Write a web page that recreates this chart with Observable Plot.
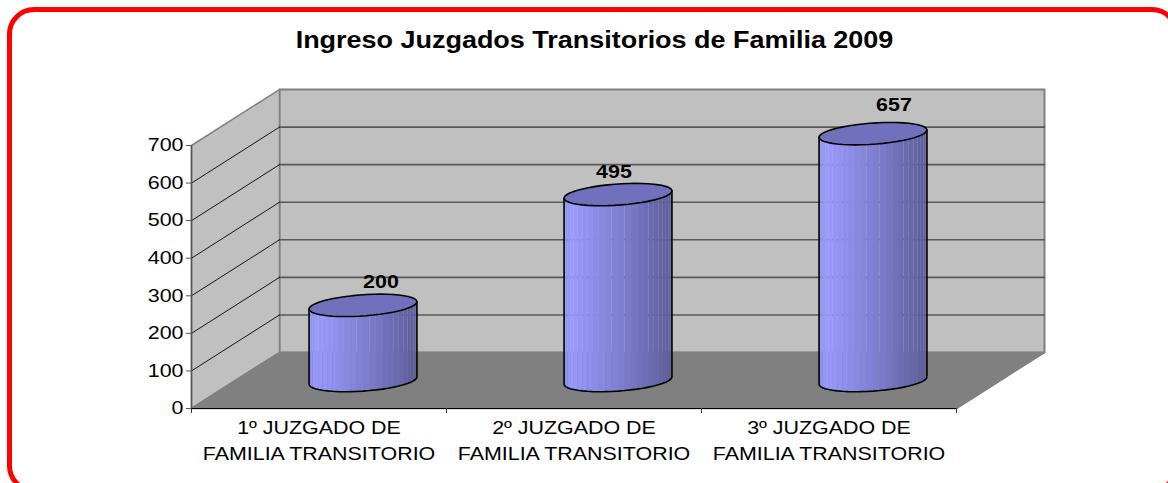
<!DOCTYPE html>
<html><head><meta charset="utf-8">
<script src="https://cdn.jsdelivr.net/npm/d3@7"></script>
<script src="https://cdn.jsdelivr.net/npm/@observablehq/plot@0.6"></script>
<style>
html,body{margin:0;padding:0;background:#fff;overflow:hidden;width:1168px;height:483px}
#frame{position:absolute;left:7px;top:7px;width:1162px;height:476px;border:5px solid #ff0000;border-radius:27px;}
#title{position:absolute;left:0;width:1189px;top:27px;text-align:center;font:bold 23.5px "Liberation Sans",Arial,sans-serif;color:#000;transform:scaleX(1.147);transform-origin:594.5px 50%}
#chart{position:absolute;left:0;top:0}
</style></head><body>
<div id="frame"></div>
<div id="title"></div>
<div id="chart"></div>
<script>
const chartTitle = "Ingreso Juzgados Transitorios de Familia 2009";
const categories = ["1º JUZGADO DE\nFAMILIA TRANSITORIO", "2º JUZGADO DE\nFAMILIA TRANSITORIO", "3º JUZGADO DE\nFAMILIA TRANSITORIO"];
const values = [200, 495, 657];
const yTicks = [0, 100, 200, 300, 400, 500, 600, 700];

// oblique projection expressed in data units: one unit of depth moves this far along x and y
const depthX = 88 / 255, depthY = 149;
const P = (u, d, v) => ({x: u + d * depthX, y: v + d * depthY});
const nCat = categories.length, yMax = yTicks[yTicks.length - 1];

const backWall = [P(0,1,0), P(nCat,1,0), P(nCat,1,yMax), P(0,1,yMax), P(0,1,0)];
const sideWall = [P(0,0,0), P(0,1,0), P(0,1,yMax), P(0,0,yMax), P(0,0,0)];
const floor = [P(0,0,0), P(nCat,0,0), P(nCat,1,0), P(0,1,0), P(0,0,0)];
const backGrid = yTicks.slice(1, -1).flatMap(v => [{...P(0,1,v), v}, {...P(nCat,1,v), v}]);
const sideGrid = yTicks.slice(1, -1).flatMap(v => [{...P(0,0,v), v}, {...P(0,1,v), v}]);

// cylinders
const rU = 0.2, rD = 0.2, t0 = Math.atan2(rD * depthX * 255, rU * 255);
const rim = (i, v, t) => P(i + .5 + rU * Math.cos(t), .5 + rD * Math.sin(t), v);
const N = 26;
const shade = d3.scaleLinear().domain([0, .07, .5, 1]).range(["#8f8ff0", "#9999ff", "#8080d2", "#5c5c9a"]).interpolate(d3.interpolateRgb);
const strips = [], outlines = [], tops = [];
values.forEach((v, i) => {
  const ts = d3.range(N + 1).map(k => t0 + Math.PI + Math.PI * k / N);
  const x0 = rim(i, 0, ts[0]).x, x1 = rim(i, 0, ts[N]).x;
  for (let k = 0; k < N; k++) {
    const a = ts[k], b = ts[k + 1];
    const f = ((rim(i,0,a).x + rim(i,0,b).x) / 2 - x0) / (x1 - x0);
    const id = `${i}-${k}`, fill = shade(f);
    [rim(i,0,a), rim(i,0,b), rim(i,v,b), rim(i,v,a)].forEach(p => strips.push({...p, id, fill}));
  }
  outlines.push({...rim(i, v, ts[0]), i});
  ts.forEach(t => outlines.push({...rim(i, 0, t), i}));
  outlines.push({...rim(i, v, ts[N]), i});
  d3.range(49).forEach(k => tops.push({...rim(i, v, 2 * Math.PI * k / 48), i}));
});
const labelOffsets = [[18, -23], [-4, -22], [21, -28]];

document.getElementById("title").textContent = chartTitle;

const chart = Plot.plot({
  width: 1168, height: 483,
  marginLeft: 191, marginRight: 212, marginTop: 145, marginBottom: 75,
  x: {domain: [0, nCat]},
  y: {domain: [0, yMax]},
  color: {type: "identity"},
  style: {fontFamily: '"Liberation Sans", Arial, sans-serif', background: "transparent", overflow: "visible", color: "#000"},
  marks: [
    Plot.line(backWall, {x: "x", y: "y", fill: "#c0c0c0", stroke: "#808080", strokeWidth: 2}),
    Plot.line(sideWall, {x: "x", y: "y", fill: "#c0c0c0", stroke: "#808080", strokeWidth: 1.5}),
    Plot.line(floor, {x: "x", y: "y", fill: "#808080", stroke: "#808080"}),
    Plot.line(backGrid, {x: "x", y: "y", z: "v", stroke: "#585858", strokeWidth: 1.6}),
    Plot.line(sideGrid, {x: "x", y: "y", z: "v", stroke: "#000", strokeWidth: .9}),
    Plot.line([P(0,0,0), P(0,1,0)], {x: "x", y: "y", stroke: "#808080", strokeWidth: 1.5}),
    Plot.ruleX([0], {y1: 0, y2: yMax, stroke: "#555", strokeWidth: 1.5}),
    Plot.ruleY([0], {x1: 0, x2: nCat, stroke: "#000", strokeWidth: 1.2}),
    Plot.line(strips, {x: "x", y: "y", z: "id", fill: "fill", stroke: null}),
    Plot.line(outlines, {x: "x", y: "y", z: "i", stroke: "#000", strokeWidth: 1.6}),
    Plot.line(tops, {x: "x", y: "y", z: "i", fill: "#7070bc", stroke: "#000", strokeWidth: 1.6}),
    ...values.map((v, i) => Plot.text([{...P(i + .5, .5, v), v}], {
      x: "x", y: "y", text: d => String(d.v), dx: labelOffsets[i][0], dy: labelOffsets[i][1],
      fontWeight: "bold", fontSize: 18, fill: "#000"
    })),
    Plot.axisY({ticks: yTicks, anchor: "left", tickSize: 5, tickPadding: 3, fontSize: 18, stroke: "#555", fill: "#000", tickFormat: d => String(d), label: null}),
    Plot.axisX({ticks: d3.range(nCat + 1), anchor: "bottom", tickSize: 5, tickFormat: () => "", stroke: "#333", label: null}),
    Plot.axisX({ticks: categories.map((_, i) => i + .5), anchor: "bottom", tickSize: 0, tickPadding: 8, fontSize: 18,
      lineHeight: 1.4, fill: "#000", lineAnchor: "top", tickFormat: d => categories[Math.floor(d)], label: null})
  ]
});
document.getElementById("chart").appendChild(chart);

// the reference's glyphs are stretched horizontally
const stretch = 1.19;
chart.querySelectorAll("text").forEach(t => {
  const spans = t.querySelectorAll("tspan");
  (spans.length ? [...spans] : [t]).forEach(e => {
    if (!e.textContent) return;
    e.setAttribute("textLength", (e.getComputedTextLength() * stretch).toFixed(1));
    e.setAttribute("lengthAdjust", "spacingAndGlyphs");
  });
});
</script>
</body></html>
